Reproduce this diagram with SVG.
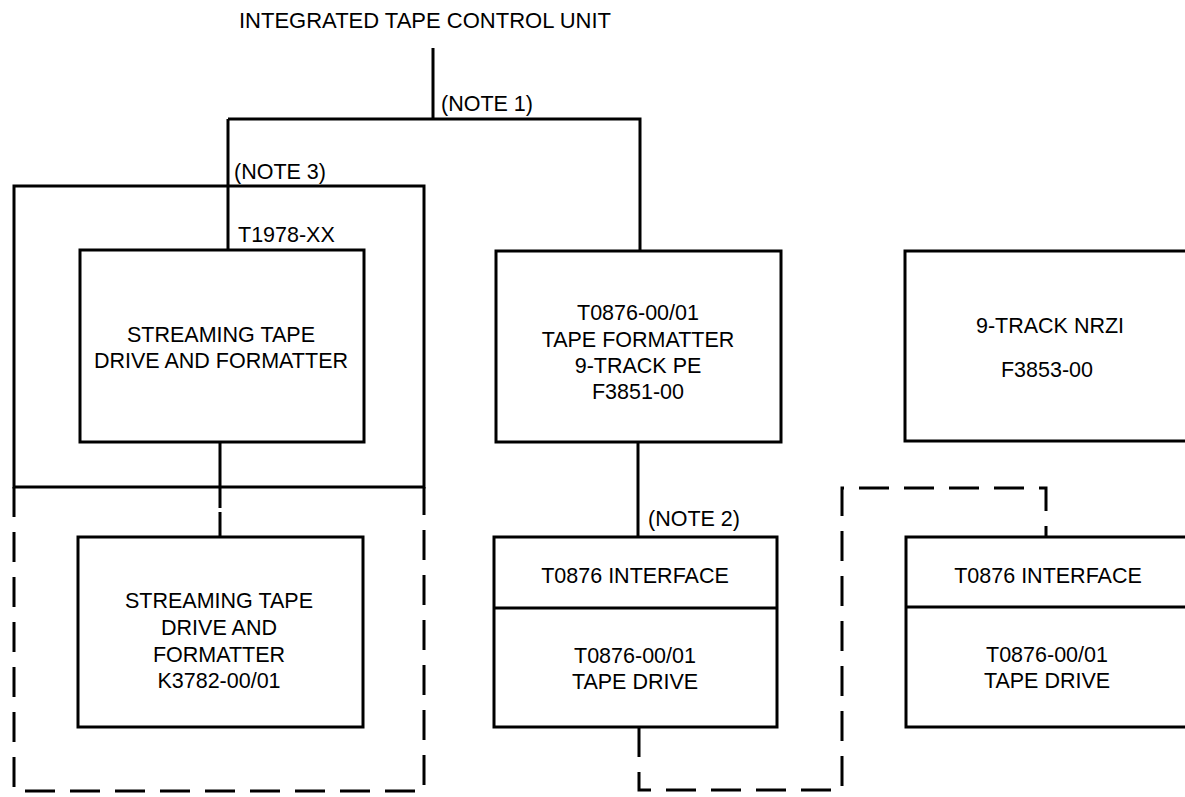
<svg xmlns="http://www.w3.org/2000/svg" width="1185" height="797" viewBox="0 0 1185 797">
<style>
.b{fill:none;stroke:#000;stroke-width:3}
.d{fill:none;stroke:#000;stroke-width:3;stroke-dasharray:30 15}
.l{fill:none;stroke:#000;stroke-width:3}
text{font-family:"Liberation Sans",Arial,sans-serif;font-size:21.5px;fill:#000}
.m{text-anchor:middle}
.t{font-size:22px}
</style>
<rect width="1185" height="797" fill="#fff"/>
<g id="title"><text x="239" y="28" class="t">INTEGRATED TAPE CONTROL UNIT</text></g>
<g id="connectors">
<path class="l" d="M433,48 V119 M228,119 H640 V251 M228,119 V250"/>
<path class="l" d="M220,442 V508 M220,512 V537"/>
<path class="l" d="M638,442 V537"/>
<path class="d" d="M639,727 V790 H842 V488 H1046 V537"/>
<text x="441" y="111">(NOTE 1)</text>
<text x="234" y="179">(NOTE 3)</text>
<text x="648" y="526">(NOTE 2)</text>
</g>
<g id="t1978">
<rect class="b" x="14" y="186" width="410" height="301"/>
<text x="238" y="242">T1978-XX</text>
</g>
<g id="k3782-group">
<path class="d" d="M14,487 V791 H424 V487"/>
</g>
<g id="streaming-top">
<rect class="b" x="80" y="250" width="284" height="192"/>
<text x="221" y="342" class="m">STREAMING TAPE</text>
<text x="221" y="368" class="m">DRIVE AND FORMATTER</text>
</g>
<g id="streaming-bottom">
<rect class="b" x="78" y="537" width="285" height="190"/>
<text x="219" y="608" class="m">STREAMING TAPE</text>
<text x="219" y="635" class="m">DRIVE AND</text>
<text x="219" y="662" class="m">FORMATTER</text>
<text x="219" y="688" class="m">K3782-00/01</text>
</g>
<g id="formatter-pe">
<rect class="b" x="496" y="251" width="285" height="191"/>
<text x="638" y="320" class="m">T0876-00/01</text>
<text x="638" y="347" class="m">TAPE FORMATTER</text>
<text x="638" y="373" class="m">9-TRACK PE</text>
<text x="638" y="399" class="m">F3851-00</text>
</g>
<g id="formatter-nrzi">
<rect class="b" x="905" y="251" width="300" height="190"/>
<text x="1050" y="333" class="m">9-TRACK NRZI</text>
<text x="1047" y="377" class="m">F3853-00</text>
</g>
<g id="drive-1">
<rect class="b" x="494" y="537" width="283" height="190"/>
<line class="l" x1="494" y1="608" x2="777" y2="608"/>
<text x="635" y="583" class="m">T0876 INTERFACE</text>
<text x="635" y="663" class="m">T0876-00/01</text>
<text x="635" y="689" class="m">TAPE DRIVE</text>
</g>
<g id="drive-2">
<rect class="b" x="906" y="537" width="300" height="190"/>
<line class="l" x1="906" y1="607" x2="1200" y2="607"/>
<text x="1048" y="583" class="m">T0876 INTERFACE</text>
<text x="1047" y="662" class="m">T0876-00/01</text>
<text x="1047" y="688" class="m">TAPE DRIVE</text>
</g>
</svg>
